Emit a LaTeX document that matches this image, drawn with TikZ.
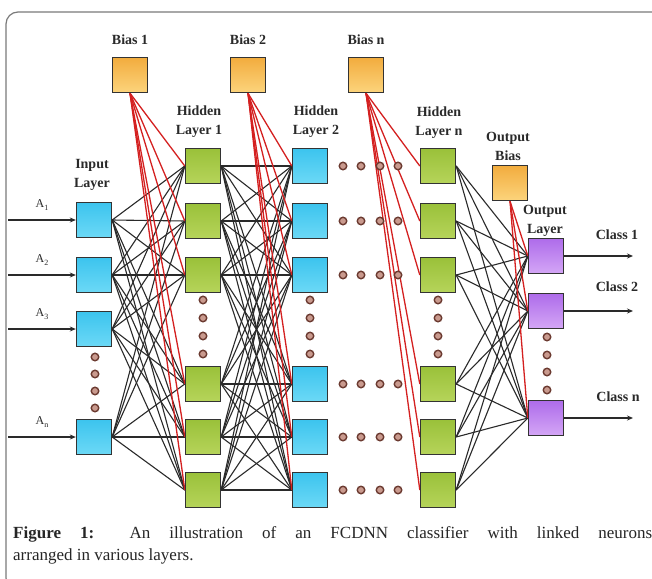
\documentclass[tikz,border=0pt]{standalone}
\usepackage{fontspec}
\setmainfont{Liberation Serif}
\usetikzlibrary{arrows.meta}
\pgfdeclarelayer{back}
\pgfdeclarelayer{bg}
\pgfsetlayers{back,bg,main}
\definecolor{orangeTop}{HTML}{F2AC3E}
\definecolor{orangeBot}{HTML}{FCD47C}
\definecolor{greenTop}{HTML}{9AC13A}
\definecolor{greenBot}{HTML}{B6D45A}
\definecolor{cyanTop}{HTML}{3CC4EE}
\definecolor{cyanBot}{HTML}{6CD9F6}
\definecolor{purpleTop}{HTML}{AE6CEA}
\definecolor{purpleBot}{HTML}{D4A6F6}
\definecolor{boxborder}{HTML}{333333}
\definecolor{wirec}{HTML}{2A2A2A}
\definecolor{redc}{HTML}{D42020}
\definecolor{labelgray}{HTML}{2A2A2A}
\definecolor{dotfill}{HTML}{C99A8E}
\definecolor{dotdraw}{HTML}{6B3A30}
\definecolor{framegray}{HTML}{7A7A7A}
\tikzset{
  neuron/.style={draw=boxborder, line width=1.4pt, minimum width=35pt, minimum height=35pt, inner sep=0pt},
  biasbox/.style={neuron, top color=orangeTop, bottom color=orangeBot},
  greenbox/.style={neuron, top color=greenTop, bottom color=greenBot},
  cyanbox/.style={neuron, top color=cyanTop, bottom color=cyanBot},
  purplebox/.style={neuron, top color=purpleTop, bottom color=purpleBot},
  lbl/.style={font=\fontsize{14}{19}\selectfont\bfseries, text=labelgray, align=center, inner sep=0pt},
  alabel/.style={font=\fontsize{12}{14}\selectfont, text=labelgray, inner sep=0pt},
  wire/.style={draw=wirec, line width=1.1pt},
  redwire/.style={draw=redc, line width=1.3pt},
  arrowline/.style={draw=wirec, line width=1.2pt, -{Stealth[length=6pt,width=5pt]}},
  dotc/.style={circle, fill=dotfill, draw=dotdraw, line width=1.4pt, minimum size=7.5pt, inner sep=0pt},
  captext/.style={anchor=base west, inner sep=0pt, font=\fontsize{17}{21}\selectfont, text=black!85},
}
\begin{document}
\begin{tikzpicture}[x=1pt,y=-1pt]
\useasboundingbox (0,0) rectangle (652,578);
\clip (0,0) rectangle (652,578);
\begin{pgfonlayer}{back}
\fill[white] (0,0) rectangle (652,578);
\end{pgfonlayer}
\draw[framegray, line width=1.2pt, rounded corners=12pt] (6,12) rectangle (680,590);

% bias nodes
\node[biasbox] (b1) at (130,75) {};
\node[biasbox] (b2) at (248,75) {};
\node[biasbox] (bn) at (366,75) {};
\node[lbl] (lb1) at (130,40) {Bias 1};
\node[lbl] (lb2) at (248,40) {Bias 2};
\node[lbl] (lbn) at (366,40) {Bias n};

% input layer
\node[cyanbox] (i1) at (94,220) {};
\node[cyanbox] (i2) at (94,275) {};
\node[cyanbox] (i3) at (94,329) {};
\node[cyanbox] (i4) at (94,437) {};
\node[lbl] (lin) at (92,175) {Input\\Layer};
\foreach \k/\y in {1/357,2/374,3/391,4/408} \node[dotc] (di\k) at (95,\y) {};

% hidden layers
\foreach \r/\y in {1/166,2/221,3/275,4/384,5/437,6/490} {
  \node[greenbox] (ha\r) at (203,\y) {};
  \node[cyanbox] (hb\r) at (310,\y) {};
  \node[greenbox] (hn\r) at (438,\y) {};
  \foreach \k/\x in {1/343,2/361,3/380,4/398} \node[dotc] (dh\r\k) at (\x,\y) {};
}
\foreach \k/\y in {1/300,2/318,3/336,4/354} {
  \node[dotc] (da\k) at (203,\y) {};
  \node[dotc] (db\k) at (310,\y) {};
  \node[dotc] (dn\k) at (438,\y) {};
}
\node[lbl] (lh1) at (199,122) {Hidden\\Layer 1};
\node[lbl] (lh2) at (316,122) {Hidden\\Layer 2};
\node[lbl] (lhn) at (439,123) {Hidden\\Layer n};

% output
\node[biasbox] (ob) at (510,183) {};
\node[lbl] (lob) at (508,146) {Output\\Bias};
\node[purplebox] (o1) at (546,256) {};
\node[purplebox] (o2) at (546,311) {};
\node[purplebox] (o3) at (546,418) {};
\node[lbl] (lol) at (545,221) {Output\\Layer};
\foreach \k/\y in {1/337,2/355,3/372,4/390} \node[dotc] (do\k) at (547,\y) {};
\node[lbl] (c1) at (617,235) {Class 1};
\node[lbl] (c2) at (617,287) {Class 2};
\node[lbl] (cn) at (618,397) {Class n};

% input arrows
\foreach \i/\y/\t in {1/220/1,2/275/2,3/329/3,4/437/n} {
  \coordinate (s\i) at (8,\y);
  \node[alabel] (a\i) at (42,\y-15) {A\raisebox{-2.5pt}{\fontsize{8}{9}\selectfont\t}};
}
\foreach \o/\y in {1/256,2/311,3/418} \coordinate (e\o) at (633,\y);

\begin{pgfonlayer}{bg}
  \foreach \i in {1,...,4} \foreach \j in {1,...,6} \draw[wire] (i\i.east) -- (ha\j.west);
  \foreach \i in {1,...,6} \foreach \j in {1,...,6} \draw[wire] (ha\i.east) -- (hb\j.west);
  \foreach \i in {1,...,6} \foreach \j in {1,2,3} \draw[wire] (hn\i.east) -- (o\j.west);
  \foreach \j in {1,...,6} {
    \draw[redwire] (b1.south) -- (ha\j.west);
    \draw[redwire] (b2.south) -- (hb\j.west);
    \draw[redwire] (bn.south) -- (hn\j.west);
  }
  \foreach \j in {1,2,3} \draw[redwire] (ob.south) -- (o\j.west);
\end{pgfonlayer}
\foreach \i in {1,...,4} \draw[arrowline] (s\i) -- (i\i.west);
\foreach \o in {1,2,3} \draw[arrowline] (o\o.east) -- (e\o);

% caption
\node[captext] (cap1) at (13,538)
  {\makebox[639pt][s]{\textbf{Figure 1:} An illustration of an FCDNN classifier with linked neurons}};
\node[captext] (cap2) at (13,560) {arranged in various layers.};
\end{tikzpicture}
\end{document}
